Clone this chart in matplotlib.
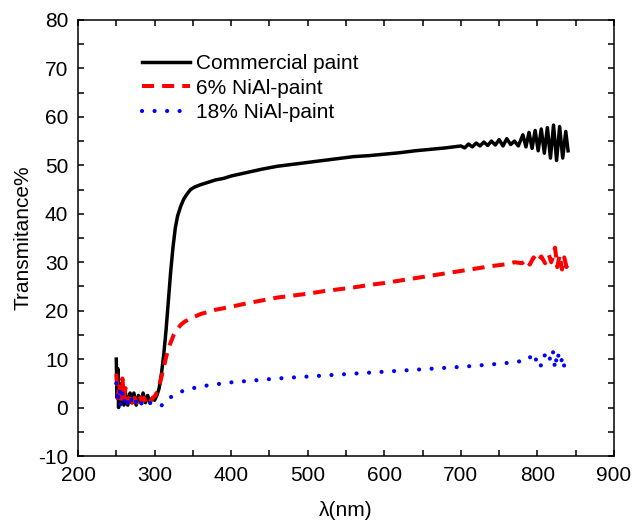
import matplotlib
matplotlib.use("Agg")
from matplotlib import pyplot as plt
from matplotlib.ticker import MultipleLocator

plt.rcParams['font.family'] = ['Liberation Sans', 'DejaVu Sans']
plt.rcParams['axes.unicode_minus'] = False

# commercial paint
wl_com = [250, 251, 252, 253, 254, 256, 258, 260, 262, 265, 268, 270, 273, 276,
          279, 282, 285, 288, 291, 294, 297, 300, 303, 306, 309, 312, 315, 318,
          321, 324, 327, 330, 334, 338, 342, 347, 352, 360, 370, 380, 390, 400,
          420, 440, 460, 480, 500, 520, 540, 560, 580, 600, 620, 640, 660, 680,
          700, 705, 710, 715, 720, 725, 730, 735, 740, 745, 750, 755, 760, 765,
          770, 775, 781, 785, 789, 793, 797, 801, 805, 809, 813, 817, 821, 825,
          829, 833, 837, 840]
t_com = [10, 2, 8, 0, 5, 1, 4, 0.5, 3, 0.5, 3, 1, 3, 0.5,
         2.5, 1, 3, 1, 2.5, 1, 2, 1.5, 2.5, 4, 7, 11, 16, 22,
         28, 33, 37, 39.5, 41.5, 43, 44, 45, 45.5, 46, 46.5, 47, 47.3, 47.8,
         48.5, 49.2, 49.8, 50.2, 50.6, 51, 51.4, 51.8, 52.0, 52.3, 52.6, 53.0, 53.3, 53.6,
         54.0, 53.6, 54.4, 53.8, 54.6, 54.0, 54.8, 54.1, 55.0, 54.2, 55.3, 54.0, 55.5, 54.3,
         55.0, 54.0, 56.3, 53.8, 56.8, 53.5, 57.2, 53.0, 57.5, 52.5, 57.8, 51.5, 58.3, 51.0,
         58.0, 51.5, 57.0, 53.0]

# 6% NiAl-paint
wl_6 = [250, 252, 254, 256, 258, 260, 262, 265, 268, 271, 274, 277, 280, 283,
        286, 289, 292, 295, 298, 301, 304, 307, 310, 313, 316, 320, 325, 330,
        335, 340, 350, 360, 380, 400, 420, 440, 460, 480, 500, 520, 540, 560,
        580, 600, 620, 640, 660, 680, 700, 720, 740, 760, 770, 780, 785, 790,
        795, 800, 805, 810, 815, 818, 820, 823, 826, 829, 832, 835, 838, 840]
t_6 = [7, 2, 5, 1, 6, 2, 4, 1, 2.5, 1, 2, 1, 2.5, 1.5,
       2, 1, 2, 1.5, 2, 2.5, 3.5, 5, 7, 9, 11, 13, 15, 16.3,
       17.2, 17.8, 18.6, 19.3, 20.2, 20.8, 21.5, 22.1, 22.7, 23.1, 23.5, 24.0, 24.4, 24.8,
       25.3, 25.7, 26.2, 26.7, 27.2, 27.7, 28.2, 28.7, 29.2, 29.6, 30.0, 29.8, 30.6, 29.5,
       31.0, 30.0, 31.2, 29.8, 31.5, 30.0, 31.0, 33.0, 29.0, 31.5, 28.5, 31.0, 29.0, 30.0]

# 18% NiAl-paint
wl_18 = [250, 252, 254, 256, 258, 260, 263, 266, 269, 272, 275, 278, 281, 284,
         287, 290, 295, 300, 305, 310, 315, 320, 325, 330, 340, 350, 370, 400,
         430, 460, 500, 540, 580, 620, 660, 700, 740, 760, 780, 790, 795, 800,
         805, 810, 815, 820, 823, 826, 830, 833, 836, 840]
t_18 = [5, 1, 4, 0.5, 3, 1, 2.5, 0.5, 2, 0.5, 1.5, 0.5, 1.5, 0.5,
        1, 0.5, 1, 0.5, 0.3, 0.5, 1.2, 2, 2.6, 3, 3.6, 4, 4.6, 5.2,
        5.6, 6.0, 6.4, 6.8, 7.2, 7.6, 8.0, 8.4, 8.9, 9.2, 9.6, 10.5, 9.0, 10.5,
        8.5, 11.0, 9.5, 12.0, 8.0, 11.5, 9.0, 10.5, 7.5, 8.0]

labels = ["Commercial paint", "6% NiAl-paint", "18% NiAl-paint"]

fig = plt.figure(figsize=(6.33, 5.2), dpi=100)
ax = fig.add_axes([78 / 633, 1 - 456 / 520, 536 / 633, 436 / 520])

ax.plot(wl_com, t_com, color='black', lw=2.5, label=labels[0])
ax.plot(wl_6, t_6, color='red', lw=2.9, linestyle=(0, (3.0, 2.0)),
        label=labels[1])
ax.plot(wl_18, t_18, color='blue', lw=3.0, linestyle=(0, (0.01, 3.0)),
        dash_capstyle='round', label=labels[2])

ax.set_xlim(200, 900)
ax.set_ylim(-10, 80)
ax.xaxis.set_major_locator(MultipleLocator(100))
ax.xaxis.set_minor_locator(MultipleLocator(50))
ax.yaxis.set_major_locator(MultipleLocator(10))
ax.yaxis.set_minor_locator(MultipleLocator(5))
ax.tick_params(which='both', direction='in', top=True, right=True,
               length=4, width=1.1, labelsize=15)
ax.tick_params(axis='x', pad=7)
ax.tick_params(axis='y', pad=7)
for s in ax.spines.values():
    s.set_linewidth(1.1)

ax.set_xlabel("λ(nm)", fontsize=15, labelpad=12)
ax.set_ylabel("Transmitance%", fontsize=15, labelpad=4)

ax.legend(loc='upper left', bbox_to_anchor=(0.1, 0.945), frameon=False,
          fontsize=15, handlelength=2.3, handletextpad=0.3,
          labelspacing=0.25, borderpad=0)

fig.savefig("out.png", dpi=100)
